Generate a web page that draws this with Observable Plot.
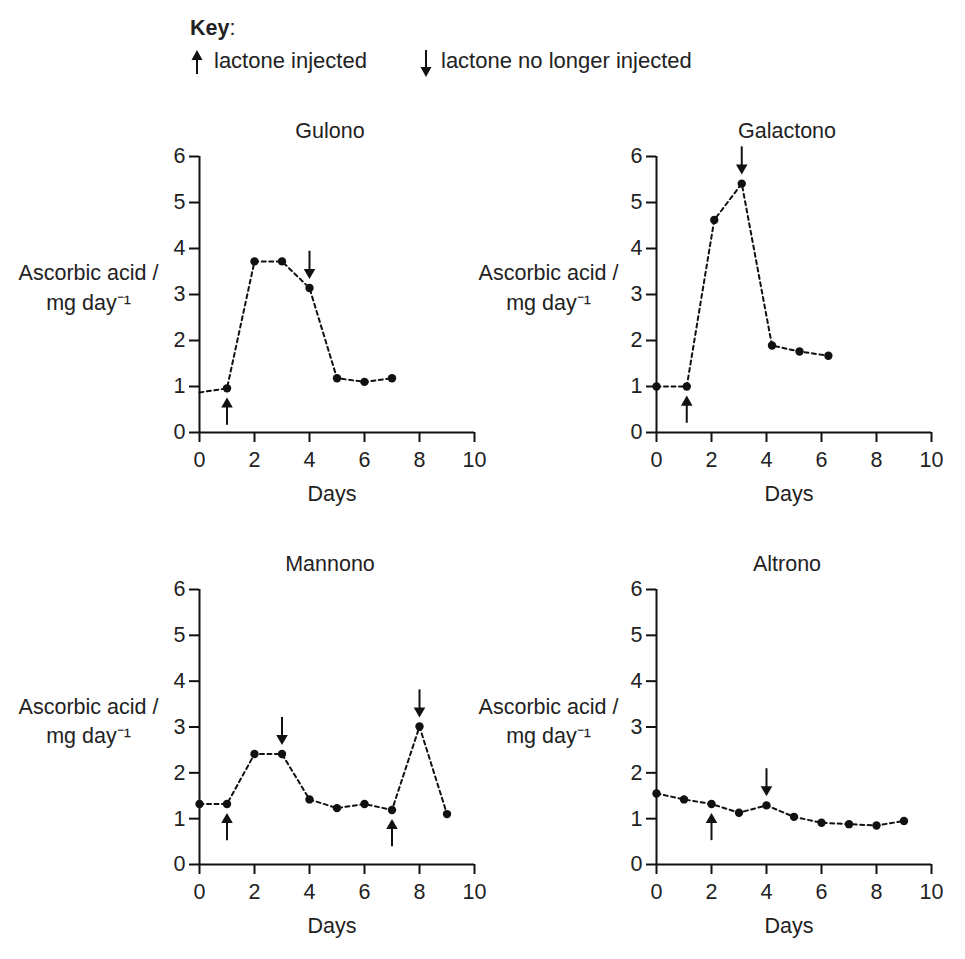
<!DOCTYPE html>
<html>
<head>
<meta charset="utf-8">
<script src="https://cdn.jsdelivr.net/npm/d3@7"></script>
<script src="https://cdn.jsdelivr.net/npm/@observablehq/plot@0.6"></script>
<style>
  html, body { margin: 0; padding: 0; background: #fff; }
  #root { position: relative; width: 965px; height: 959px; background: #fff;
          font-family: "Liberation Sans", Arial, sans-serif; color: #222; }
  .panel { position: absolute; }
  #key { position: absolute; left: 0; top: 0; }
</style>
</head>
<body>
<div id="root">
  <svg id="key" width="965" height="100" font-family="Liberation Sans, Arial, sans-serif" font-size="22" fill="#222">
    <text x="190" y="35" font-size="21.5"><tspan font-weight="bold">Key</tspan>:</text>
    <line x1="197" y1="74" x2="197" y2="57" stroke="#111" stroke-width="2"/>
    <path d="M197,50 L202.5,60 L191.5,60 Z" fill="#111"/>
    <text x="214" y="68">lactone injected</text>
    <line x1="426" y1="50" x2="426" y2="68" stroke="#111" stroke-width="2"/>
    <path d="M426,77 L431.5,67 L420.5,67 Z" fill="#111"/>
    <text x="441" y="68">lactone no longer injected</text>
  </svg>
</div>
<script>
// ---- data ----
const xTicks = [0, 2, 4, 6, 8, 10];
const yTicks = [0, 1, 2, 3, 4, 5, 6];
const yLabel = "Ascorbic acid /\nmg day⁻¹";
const xLabel = "Days";

const gulonoDays   = [0, 1, 2, 3, 4, 5, 6, 7];
const gulonoValues = [0.87, 0.96, 3.72, 3.72, 3.14, 1.18, 1.10, 1.18];
const gulonoNoDot  = [0];          // line starts at day 0 with no marker
const gulonoUp     = [1];
const gulonoDown   = [4];

const galactonoDays   = [0, 1.1, 2.1, 3.1, 4.2, 5.2, 6.25];
const galactonoValues = [1.00, 1.00, 4.62, 5.41, 1.89, 1.76, 1.67];
const galactonoNoDot  = [];
const galactonoUp     = [1.1];
const galactonoDown   = [3.1];

const mannonoDays   = [0, 1, 2, 3, 4, 5, 6, 7, 8, 9];
const mannonoValues = [1.32, 1.32, 2.41, 2.41, 1.42, 1.23, 1.32, 1.19, 3.01, 1.10];
const mannonoNoDot  = [];
const mannonoUp     = [1, 7];
const mannonoDown   = [3, 8];

const altronoDays   = [0, 1, 2, 3, 4, 5, 6, 7, 8, 9];
const altronoValues = [1.55, 1.42, 1.32, 1.13, 1.29, 1.04, 0.91, 0.88, 0.85, 0.95];
const altronoNoDot  = [];
const altronoUp     = [2];
const altronoDown   = [4];

// ---- drawing ----
const FONT = "Liberation Sans, Arial, sans-serif";
const INK = "#111";
const FS = 21.5;

function panel({title, days, values, noDot, up, down, left, top, marginLeft, width, frameH, labelDx, labelDy}) {
  const data = days.map((d, i) => ({day: d, value: values[i], dot: !noDot.includes(d)}));
  const valueAt = d => data.find(p => p.day === d).value;
  const ups = up.map(d => ({day: d, tail: valueAt(d) - 0.8, base: valueAt(d) - 0.3, tip: valueAt(d) - 0.2}));
  const downs = down.map(d => ({day: d, tail: valueAt(d) + 0.8, base: valueAt(d) + 0.3, tip: valueAt(d) + 0.2}));
  const marginTop = 56, marginBottom = 80;
  const plot = Plot.plot({
    width,
    height: marginTop + frameH + marginBottom,
    marginLeft,
    marginRight: width - marginLeft - 275,
    marginTop,
    marginBottom,
    x: {domain: [0, 10]},
    y: {domain: [0, 6]},
    style: {fontFamily: FONT, fontSize: FS + "px", color: "#222", background: "transparent", overflow: "visible"},
    marks: [
      Plot.axisX({ticks: xTicks, tickSize: 10, tickPadding: 9, tickFormat: d => String(d), label: null,
                  stroke: INK, strokeWidth: 2, fontSize: FS}),
      Plot.axisY({ticks: yTicks, tickSize: 10, tickPadding: 4, tickFormat: d => String(d), label: null,
                  stroke: INK, strokeWidth: 2, fontSize: FS}),
      Plot.ruleY([0], {stroke: INK, strokeWidth: 2}),
      Plot.ruleX([0], {stroke: INK, strokeWidth: 2}),
      Plot.line(data, {x: "day", y: "value", stroke: INK, strokeWidth: 2, strokeDasharray: "4,3.5"}),
      Plot.dot(data.filter(d => d.dot), {x: "day", y: "value", r: 4.2, fill: INK, stroke: null}),
      // arrows: shafts + filled triangular heads
      Plot.ruleX(ups, {x: "day", y1: "tail", y2: "base", stroke: INK, strokeWidth: 2}),
      Plot.dot(ups, {x: "day", y: "tip", symbol: "triangle", r: 4.3, fill: INK, stroke: null, dy: 6.6}),
      Plot.ruleX(downs, {x: "day", y1: "tail", y2: "base", stroke: INK, strokeWidth: 2}),
      Plot.dot(downs, {x: "day", y: "tip", symbol: "triangle", r: 4.3, fill: INK, stroke: null, rotate: 180, dy: -6.6}),
      // texts
      Plot.text([title], {frameAnchor: "top", dy: -34, dx: -7, fontSize: FS, fill: "#222"}),
      Plot.text([xLabel], {frameAnchor: "bottom", dy: 68, dx: -5, fontSize: FS, fill: "#222"}),
      Plot.text([yLabel], {frameAnchor: "left", dx: labelDx, dy: labelDy, textAnchor: "middle",
                           lineHeight: 1.38, fontSize: FS, fill: "#222"})
    ]
  });
  plot.classList.add("panel");
  plot.style.left = left + "px";
  plot.style.top = top + "px";
  document.getElementById("root").appendChild(plot);
}

panel({title: "Gulono", days: gulonoDays, values: gulonoValues, noDot: gulonoNoDot, up: gulonoUp, down: gulonoDown,
       left: 0, top: 100, marginLeft: 199, width: 482, frameH: 276, labelDx: -111, labelDy: -9});
panel({title: "Galactono", days: galactonoDays, values: galactonoValues, noDot: galactonoNoDot, up: galactonoUp, down: galactonoDown,
       left: 482, top: 100, marginLeft: 174, width: 483, frameH: 276, labelDx: -108, labelDy: -9});
panel({title: "Mannono", days: mannonoDays, values: mannonoValues, noDot: mannonoNoDot, up: mannonoUp, down: mannonoDown,
       left: 0, top: 533, marginLeft: 199, width: 482, frameH: 275, labelDx: -111, labelDy: -8});
panel({title: "Altrono", days: altronoDays, values: altronoValues, noDot: altronoNoDot, up: altronoUp, down: altronoDown,
       left: 482, top: 533, marginLeft: 174, width: 483, frameH: 275, labelDx: -108, labelDy: -8});
</script>
</body>
</html>
